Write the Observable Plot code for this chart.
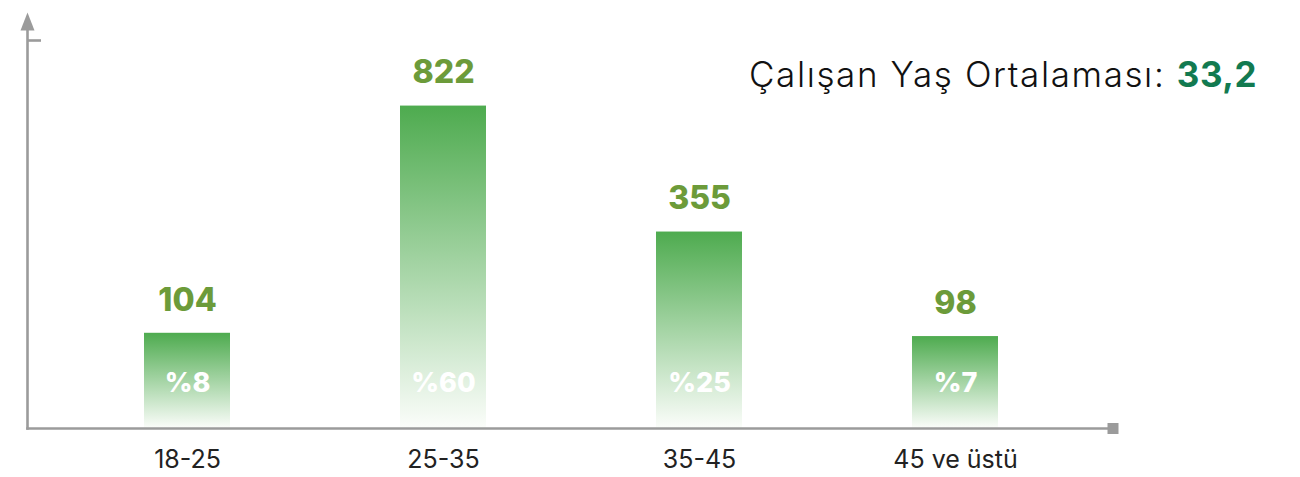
<!DOCTYPE html>
<html><head><meta charset="utf-8">
<script src="https://cdn.jsdelivr.net/npm/d3@7"></script>
<script src="https://cdn.jsdelivr.net/npm/@observablehq/plot@0.6"></script>
<style>
body{margin:0;background:#fff;font-family:Inter,"Open Sans",sans-serif}
#wrap{position:relative;width:1300px;height:477px}
#title{position:absolute;right:43px;top:57px;font-size:35px;font-weight:300;color:#111;white-space:nowrap;line-height:1;letter-spacing:1.6px}
#title b{color:#127a50;font-weight:700;letter-spacing:0.5px}
</style></head><body><div id="wrap"><div id="title"></div></div>
<script>
const categories = ["18-25", "25-35", "35-45", "45 ve üstü"];
const counts = [104, 822, 355, 98];
const percents = ["%8", "%60", "%25", "%7"];
const titleText = "Çalışan Yaş Ortalaması: ";
const averageAge = "33,2";

const data = categories.map((c, i) => ({category: c, count: counts[i], pct: percents[i]}));

const t = document.getElementById("title");
t.textContent = titleText;
const b = document.createElement("b");
b.textContent = averageAge;
t.appendChild(b);

const axisColor = "#9b9b9b";
const arrowSymbol = {draw(ctx) { ctx.moveTo(0, -12); ctx.lineTo(-7, 6); ctx.lineTo(7, 6); ctx.closePath(); }};
const squareSymbol = {draw(ctx) { ctx.rect(-5.5, -5.5, 11, 11); }};

const chart = Plot.plot({
  width: 1300, height: 477,
  marginLeft: 27, marginRight: 186, marginTop: 40, marginBottom: 49,
  style: {fontFamily: "Inter, 'Open Sans', sans-serif", background: "white", overflow: "visible"},
  x: {domain: categories, paddingInner: 0.6645, paddingOuter: 0.4526, label: null},
  y: {type: "pow", exponent: 0.59, domain: [0, 1125], label: null},
  marks: [
    Plot.barY(data, {x: "category", y: "count", fill: "url(#barGrad)"}),
    Plot.frame({anchor: "left", stroke: axisColor, strokeWidth: 2.6, insetTop: -14}),
    Plot.frame({anchor: "bottom", stroke: axisColor, strokeWidth: 2.6}),
    Plot.dot([0], {frameAnchor: "top-left", symbol: arrowSymbol, fill: axisColor, stroke: "none", dy: -16}),
    Plot.dot([0], {frameAnchor: "bottom-right", symbol: squareSymbol, fill: axisColor, stroke: "none", dx: -1.5}),
    Plot.axisY({ticks: [1125], tickSize: -14, tickFormat: () => "", stroke: axisColor, strokeWidth: 2.6}),
    Plot.axisX({tickSize: 0, tickPadding: 22, fontSize: 25, fill: "#222", style: {letterSpacing: "0.5px"}}),
    Plot.text(data, {x: "category", y: "count", text: d => String(d.count), dy: -33, fill: "#6c9b3a", fontWeight: 800, fontSize: 32}),
    Plot.text(data, {x: "category", y: 0, text: "pct", dy: -45, fill: "white", fontWeight: 800, fontSize: 27})
  ]
});
d3.select(chart).insert("defs", ":first-child").html(
  '<linearGradient id="barGrad" x1="0" y1="0" x2="0" y2="1">' +
  '<stop offset="0" stop-color="#4eab4f"/><stop offset="1" stop-color="#fbfdfa"/></linearGradient>');
document.getElementById("wrap").insertBefore(chart, t);
</script></body></html>
